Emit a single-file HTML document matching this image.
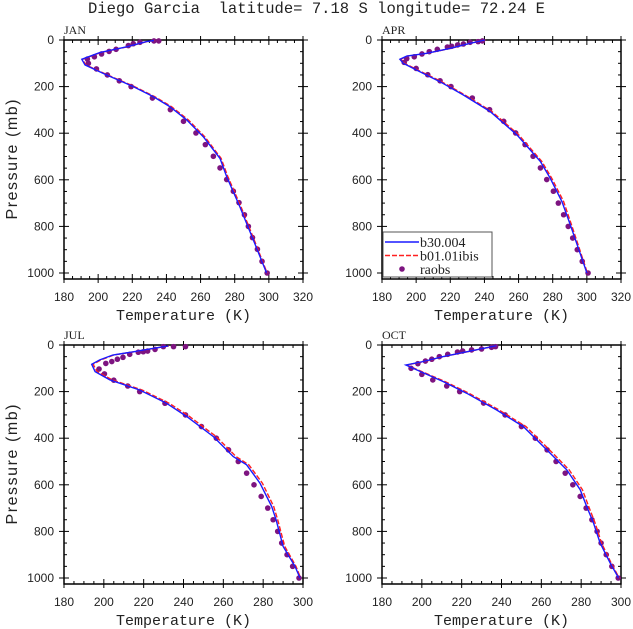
<!DOCTYPE html>
<html><head><meta charset="utf-8"><style>
html,body{margin:0;padding:0;background:#fff;}
svg{display:block;}
</style></head><body>
<svg id="chart" width="633" height="629" viewBox="0 0 633 629" xmlns="http://www.w3.org/2000/svg">
<text x="88" y="13" font-family="Liberation Mono, monospace" font-size="16" textLength="457" lengthAdjust="spacingAndGlyphs" fill="#222">Diego Garcia&#160; latitude= 7.18 S longitude= 72.24 E</text>
</svg>
<script>
// ---- data ----
const panelNames = ["JAN","APR","JUL","OCT"];
const xTicksTop = [180,200,220,240,260,280,300,320];
const xTicksBottom = [180,200,220,240,260,280,300];
const yTicks = [0,200,400,600,800,1000];

const janModelP = [2,7,29,54,83,107,150,200,243,286,343,415,508,587,715,858,1000];
const janBlueT  = [232.7,228.4,216.7,201,190.4,192.3,205,220.6,232.3,242,251.9,261.6,271.4,275.3,283,290.9,298.7];
const janRedT   = [232.9,228.6,217.0,201.3,190.8,192.8,205.6,221.3,233.1,242.9,252.8,262.4,272.0,276.0,283.6,291.4,299.0];
const janObsP = [4,4,10,16,24,40,49,60,72,82,100,124,150,175,200,249,299,349,399,449,499,549,599,649,698,750,800,848,898,950,1000];
const janObsT = [235.5,232.7,224.5,220.6,217.7,210.5,206.4,202,197.8,193.7,194.3,199,205.4,212.4,219.3,231.8,242.3,250,257.3,262.8,267.5,271.4,275.3,279.2,282.5,285.7,288,290.4,293.3,296,299];

const aprModelP = [0,14,36,57,69,83,100,129,179,236,307,407,521,593,693,793,1000];
const aprBlueT  = [240.4,231.6,219.8,206.2,194.5,190.5,192.5,200.3,214,227.7,243.3,259,272.7,278.5,285.4,290.3,300];
const aprRedT   = [240.6,231.8,220.1,206.5,194.9,191.0,193.2,201.0,214.9,228.6,244.3,260.0,273.6,279.4,286.4,291.0,300.3];
const aprObsP = [4,7,10,17,21,27,30,40,50,60,72,80,96,122,149,175,200,249,299,349,399,449,499,549,599,649,700,750,800,850,900,950,1000];
const aprObsT = [238.8,236.3,231.6,227.7,224.3,220.8,218.3,212.4,207.7,203.4,198.9,194.5,193,200,206.8,214,220.4,232.9,243,251.3,258.3,263.8,268.5,272.8,276.5,280.4,283.3,286.4,289.1,291.7,294.4,297.3,300.7];

const julModelP = [4,14,29,43,64,83,114,150,193,250,307,393,479,514,593,693,750,864,950,1000];
const julBlueT  = [232.4,225,214.8,204.5,198,193.9,195.6,203,218,231.5,241.6,255,265,271.7,278.4,284.3,286.5,290,296,298.5];
const julRedT   = [232.6,225.3,215.1,205.0,198.6,194.6,196.6,204.2,219.2,232.8,243.0,256.4,266.4,272.8,279.6,285.3,287.3,290.8,296.5,298.8];
const julObsP = [7,7,7,19,26,29,31,40,53,61,71,79,103,124,151,176,200,250,300,350,400,450,500,550,600,650,700,750,800,850,900,950,1000];
const julObsT = [229.9,235,241,225.7,222,219.8,217.3,213,209.6,206.8,204,201,197.6,200.3,205,212,218,230.7,241,249,256.5,262.6,267.5,271.7,275.4,279,282.3,285,287.3,289.3,292,294.8,298];

const octModelP = [3,29,50,71,86,107,157,207,279,350,464,536,621,693,764,850,936,1000];
const octBlueT  = [237.6,222.5,210.8,200.8,192,197.4,210.8,222.5,237.6,251,264.4,272.8,279.5,282.8,286.2,289.5,294.6,298.8];
const octRedT   = [237.8,222.8,211.1,201.2,192.5,198.0,211.7,223.6,238.8,252.3,265.7,274.0,280.6,283.8,287.0,290.2,295.1,299.1];
const octObsP = [7,10,17,21,26,30,40,50,61,69,80,100,126,150,176,200,249,300,350,400,450,500,550,600,650,700,750,800,850,900,950,1000];
const octObsT = [237,235,230,225,220.5,217.9,213,208.8,205,201.8,198,194.6,200,205.5,212.5,219,231,241.8,250,257,262.9,267.4,272,275.8,279.5,282.5,285.4,288,290,292.6,295.4,298.6];

const legendLabels = ["b30.004","b01.01ibis","raobs"];

// ---- drawing ----
const NS="http://www.w3.org/2000/svg";
const svg=document.getElementById('chart');
function mk(tag,attrs,parent){const e=document.createElementNS(NS,tag);for(const k in attrs)e.setAttribute(k,attrs[k]);(parent||svg).appendChild(e);return e;}

const panels=[
 {name:panelNames[0],x0:64,x1:303,y0:40,y1:279,xmax:320,ticks:xTicksTop,mp:janModelP,b:janBlueT,r:janRedT,op:janObsP,ot:janObsT,ylab:true},
 {name:panelNames[1],x0:382,x1:621,y0:40,y1:279,xmax:320,ticks:xTicksTop,mp:aprModelP,b:aprBlueT,r:aprRedT,op:aprObsP,ot:aprObsT,ylab:false,legend:true},
 {name:panelNames[2],x0:64,x1:303,y0:345,y1:584,xmax:300,ticks:xTicksBottom,mp:julModelP,b:julBlueT,r:julRedT,op:julObsP,ot:julObsT,ylab:true},
 {name:panelNames[3],x0:382,x1:621,y0:345,y1:584,xmax:300,ticks:xTicksBottom,mp:octModelP,b:octBlueT,r:octRedT,op:octObsP,ot:octObsT,ylab:false}
];

panels.forEach(P=>{
  const g=mk('g',{});
  
  
  const pxPerMb=(578-345)/1000;
  const xs=t=>P.x0+(t-180)/(P.xmax-180)*(P.x1-P.x0);
  const ys=p=>P.y0+p*pxPerMb;
  const fr=mk('rect',{x:P.x0,y:P.y0,width:P.x1-P.x0,height:P.y1-P.y0,fill:'none',stroke:'#000','stroke-width':1.5},g);
  
  
  for(let t=180;t<=P.xmax;t+=5){
    const x=xs(t);const major=(t%20===0);
    const L=major?5:3;
    mk('line',{x1:x,y1:P.y1,x2:x,y2:P.y1-L,stroke:'#000','stroke-width':1},g);
    mk('line',{x1:x,y1:P.y0,x2:x,y2:P.y0+L,stroke:'#000','stroke-width':1},g);
    if(major){mk('line',{x1:x,y1:P.y1,x2:x,y2:P.y1+4,stroke:'#000','stroke-width':1},g);
      mk('line',{x1:x,y1:P.y0,x2:x,y2:P.y0-4,stroke:'#000','stroke-width':1},g);}
  }
  P.ticks.forEach(t=>{
    const tl=mk('text',{x:xs(t),y:P.y1+22,'text-anchor':'middle','font-family':'Liberation Sans, sans-serif','font-size':12,fill:'#222'},g);
    tl.textContent=t;
    
    
  });
  for(let p=0;p<=1000;p+=50){
    const y=ys(p);const major=(p%200===0);const L=major?5:3;
    mk('line',{x1:P.x0,y1:y,x2:P.x0+L,y2:y,stroke:'#000','stroke-width':1},g);
    mk('line',{x1:P.x1,y1:y,x2:P.x1-L,y2:y,stroke:'#000','stroke-width':1},g);
    if(major){mk('line',{x1:P.x0,y1:y,x2:P.x0-5,y2:y,stroke:'#000','stroke-width':1},g);
      mk('line',{x1:P.x1,y1:y,x2:P.x1+5,y2:y,stroke:'#000','stroke-width':1},g);}
  }
  yTicks.forEach(p=>{
    const tl=mk('text',{x:P.x0-10,y:ys(p)+4,'text-anchor':'end','font-family':'Liberation Sans, sans-serif','font-size':12,fill:'#222'},g);
    tl.textContent=p;
    
    
  });
  const pl=mk('text',{x:P.x0,y:P.y0-6,'font-family':'Liberation Serif, serif','font-size':12,fill:'#222'},g);
  pl.textContent=P.name;
  
  
  const xt=mk('text',{x:(P.x0+P.x1)/2,y:P.y1+41,'text-anchor':'middle','font-family':'Liberation Mono, monospace','font-size':15,textLength:135,fill:'#222'},g);
  xt.textContent='Temperature (K)';
  
  
  if(P.ylab){
    const cy=(P.y0+P.y1)/2;
    const yt=mk('text',{x:0,y:0,transform:`translate(17,${cy}) rotate(-90)`,'text-anchor':'middle','font-family':'Liberation Sans, sans-serif','font-size':16,textLength:120,fill:'#222'},g);
    yt.textContent='Pressure (mb)';
    
    
  }
  const pts=(T)=>P.mp.map((p,i)=>xs(T[i]).toFixed(1)+','+ys(p).toFixed(1)).join(' ');
  const obsG=mk('g',{},g);
  
  
  P.op.forEach((p,i)=>{
    const c=mk('circle',{cx:xs(P.ot[i]),cy:ys(p),r:2.8,fill:'#7d1480'},obsG);
    
    
  });
  const red=mk('polyline',{points:pts(P.r),fill:'none',stroke:'#ff2020','stroke-width':1.4,'stroke-dasharray':'5,2'},g);
  
  
  const blue=mk('polyline',{points:pts(P.b),fill:'none',stroke:'#1a1aff','stroke-width':1.4},g);
  
  
  if(P.legend){
    const lg=mk('g',{},g);
    
    
    mk('rect',{x:383,y:232,width:109,height:45,fill:'#fff',stroke:'#555','stroke-width':1},lg);
    const rows=[[legendLabels[0],'line','#1a1aff',''],[legendLabels[1],'line','#ff2020','5,2'],[legendLabels[2],'dot','#7d1480','']];
    rows.forEach((r,i)=>{
      const y=242+i*13.5;
      const e=mk('g',{},lg);
      
      
      if(r[1]==='line') mk('line',{x1:385,y1:y,x2:419,y2:y,stroke:r[2],'stroke-width':1.4,'stroke-dasharray':r[3]||'none'},e);
      else mk('circle',{cx:402,cy:y,r:2.8,fill:r[2]},e);
      const t=mk('text',{x:420,y:y+5,'font-family':'Liberation Serif, serif','font-size':14,fill:'#222'},e);
      t.textContent=r[0];
    });
  }
});
</script>
</body></html>
